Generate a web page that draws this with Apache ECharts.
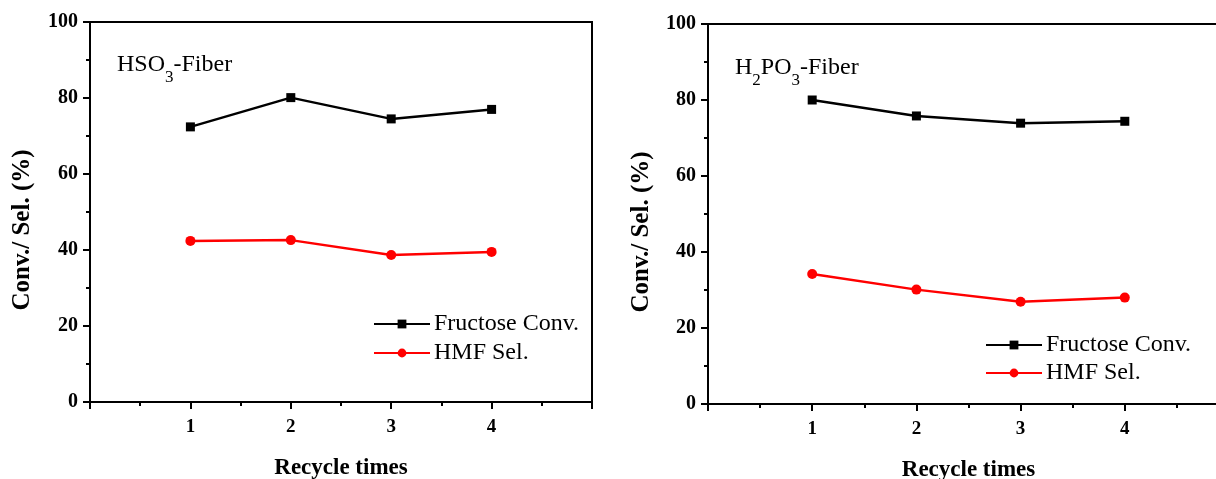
<!DOCTYPE html>
<html>
<head>
<meta charset="utf-8">
<script src="https://cdn.jsdelivr.net/npm/echarts@6/dist/echarts.min.js"></script>
<style>
html,body{margin:0;padding:0;background:#fff;}
#chart{width:1216px;height:479px;}
</style>
</head>
<body>
<div id="chart"></div>
<script>
// ---- data ----
const cycles = [1, 2, 3, 4];
const xTickLabels = ['1', '2', '3', '4'];
const yTickLabels = ['0', '20', '40', '60', '80', '100'];
const seriesNames = ['Fructose Conv.', 'HMF Sel.'];
const panelTitles = ['HSO{sub|3}-Fiber', 'H{sub|2}PO{sub|3}-Fiber'];
const xTitle = 'Recycle times';
const yTitle = 'Conv./ Sel. (%)';
const hso3Conv = [72.4, 80.1, 74.5, 77.0];
const hso3Sel = [42.4, 42.6, 38.7, 39.5];
const h2po3Conv = [80.0, 75.8, 73.9, 74.4];
const h2po3Sel = [34.2, 30.1, 26.9, 28.0];

const FONT = '"Liberation Serif", "Times New Roman", serif';
const chart = echarts.init(document.getElementById('chart'), null, {renderer: 'canvas'});

function pairs(ys) { return cycles.map((c, i) => [c, ys[i]]); }

function xAxisCfg(gi) {
  return {
    gridIndex: gi, type: 'value', min: 0, max: 5, interval: 1,
    name: xTitle, nameLocation: 'middle', nameGap: 55,
    nameTextStyle: {fontFamily: FONT, fontWeight: 'bold', fontSize: 23, color: '#000'},
    axisLine: {show: true, onZero: false, lineStyle: {color: '#000', width: 2}},
    axisTick: {show: true, inside: false, length: 7, lineStyle: {color: '#000', width: 2}},
    minorTick: {show: true, splitNumber: 2, length: 4, lineStyle: {color: '#000', width: 2}},
    splitLine: {show: false},
    axisLabel: {
      fontFamily: FONT, fontWeight: 'bold', fontSize: 19, color: '#000', margin: 16,
      formatter: v => xTickLabels.includes(String(v)) ? String(v) : ''
    }
  };
}
function yAxisCfg(gi) {
  return {
    gridIndex: gi, type: 'value', min: 0, max: 100, interval: 20,
    axisLine: {show: true, lineStyle: {color: '#000', width: 2}},
    axisTick: {show: true, inside: false, length: 7, lineStyle: {color: '#000', width: 2}},
    minorTick: {show: true, splitNumber: 2, length: 4, lineStyle: {color: '#000', width: 2}},
    splitLine: {show: false},
    axisLabel: {
      fontFamily: FONT, fontWeight: 'bold', fontSize: 20, color: '#000', margin: 12,
      formatter: v => yTickLabels.includes(String(v)) ? String(v) : ''
    }
  };
}
function lineSeries(name, gi, ys, color, symbol, size) {
  return {
    name: name, type: 'line', xAxisIndex: gi, yAxisIndex: gi,
    data: pairs(ys), symbol: symbol, symbolSize: size,
    lineStyle: {color: color, width: 2.5},
    itemStyle: {color: color},
    emphasis: {disabled: true}, animation: false
  };
}
function legendCfg(left, top, gap) {
  return {
    data: seriesNames, orient: 'vertical', left: left, top: top, padding: 0,
    itemWidth: 56, itemHeight: 11, itemGap: gap,
    textStyle: {fontFamily: FONT, fontSize: 24, color: '#000', padding: [0, 0, 0, -1]}
  };
}
function titleGraphic(x, y, txt) {
  return {
    type: 'text', left: x, top: y,
    style: {
      text: txt, fontFamily: FONT, fontSize: 24, fill: '#000',
      rich: {
        sub: {fontFamily: FONT, fontSize: 17, fill: '#000', padding: [26, 0, 0, 0]}
      }
    }
  };
}
function yTitleGraphic(x, y) {
  return {
    type: 'text', x: x, y: y, rotation: Math.PI / 2,
    style: {
      text: yTitle, fontFamily: FONT, fontWeight: 'bold', fontSize: 25, fill: '#000',
      align: 'center', verticalAlign: 'middle'
    }
  };
}

chart.setOption({
  backgroundColor: '#fff',
  animation: false,
  grid: [
    {left: 90, top: 22, width: 502, height: 380, show: true, borderColor: '#000', borderWidth: 2,
     containLabel: false, outerBoundsMode: 'none'},
    {left: 708, top: 24, width: 521, height: 380, show: true, borderColor: '#000', borderWidth: 2,
     containLabel: false, outerBoundsMode: 'none'}
  ],
  xAxis: [xAxisCfg(0), xAxisCfg(1)],
  yAxis: [yAxisCfg(0), yAxisCfg(1)],
  legend: [legendCfg(373, 312, 5), legendCfg(985, 333, 4)],
  series: [
    lineSeries(seriesNames[0], 0, hso3Conv, '#000000', 'rect', 9),
    lineSeries(seriesNames[1], 0, hso3Sel, '#ff0000', 'circle', 10),
    lineSeries(seriesNames[0], 1, h2po3Conv, '#000000', 'rect', 9),
    lineSeries(seriesNames[1], 1, h2po3Sel, '#ff0000', 'circle', 10)
  ],
  graphic: [
    titleGraphic(117, 53, panelTitles[0]),
    titleGraphic(735, 56, panelTitles[1]),
    yTitleGraphic(23, 230),
    yTitleGraphic(642, 232)
  ]
});
</script>
</body>
</html>
